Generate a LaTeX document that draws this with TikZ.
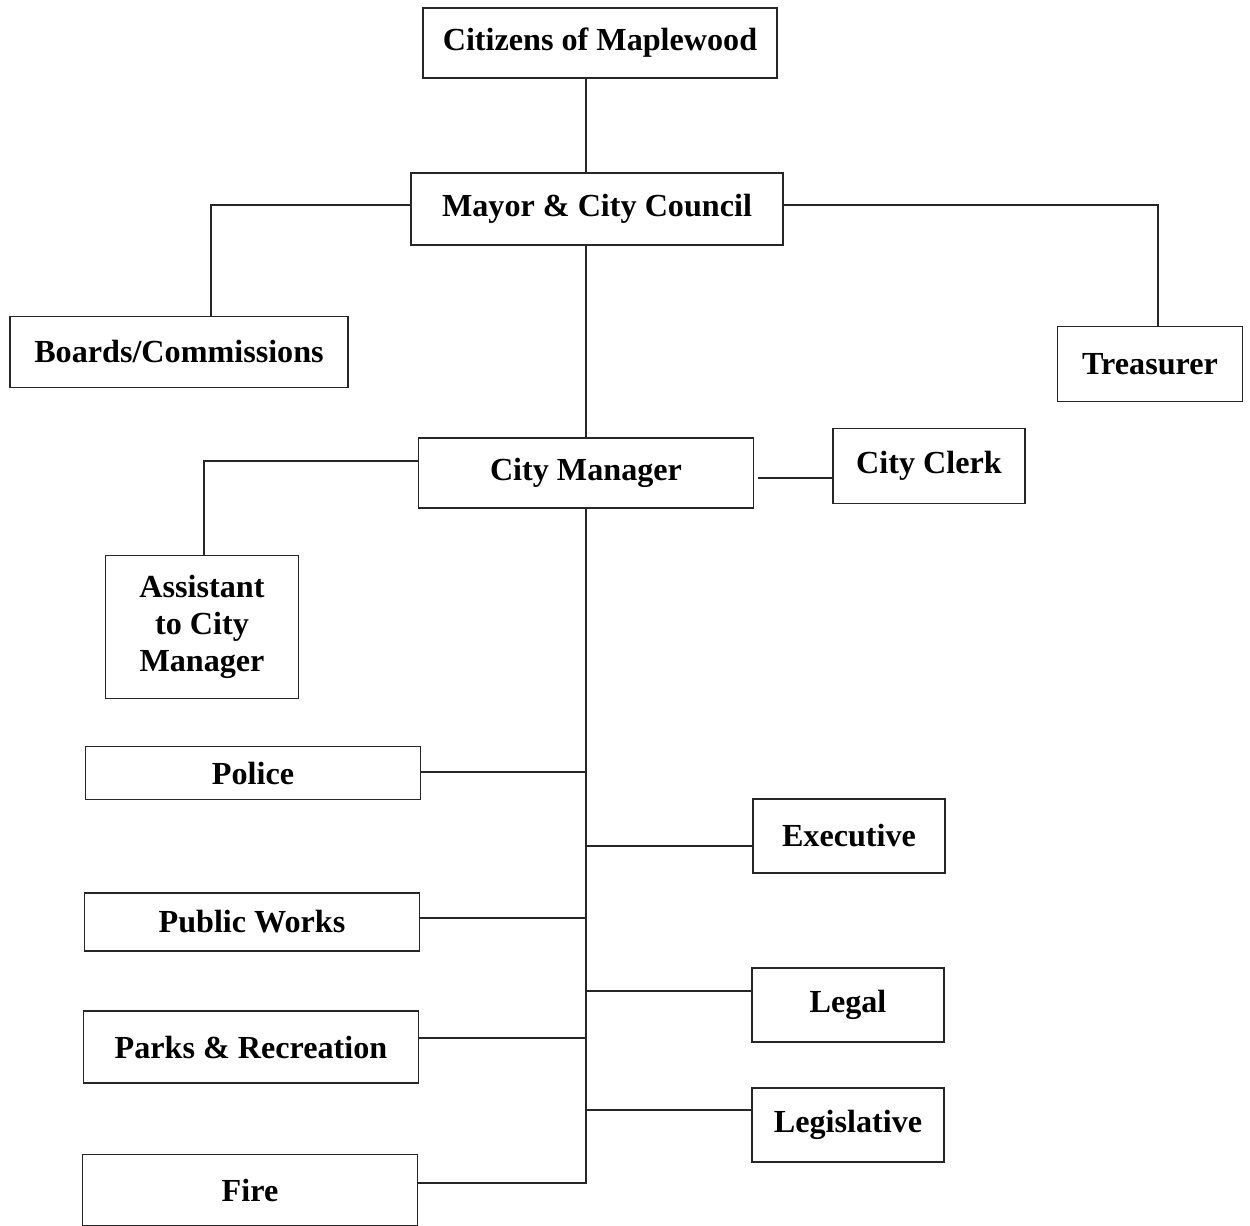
\documentclass[tikz,border=0pt]{standalone}
\usepackage{fontspec}
\setmainfont{Liberation Serif}
\usepackage{tikz}
\usetikzlibrary{calc}

\begin{document}
\begin{tikzpicture}[
  x=0.02cm, y=-0.02cm,
  font=\bfseries\fontsize{18.3}{21}\selectfont,
  unit/.style ={draw=black!85, line width=0.9pt, fill=white, inner sep=0pt, align=center},
  wide/.style ={unit, minimum width=6.7cm},
  short/.style={unit, minimum width=3.84cm, minimum height=1.48cm},
  link/.style ={draw=black!85, line width=0.9pt},
]
\useasboundingbox (0,0) rectangle (1250,1226);

% ── Top: citizens, council ───────────────────────────────────────────
\node[unit, minimum width=7.08cm, minimum height=1.4cm] (citizens) at (600,43) {Citizens of Maplewood};
\node[unit, minimum width=7.44cm, minimum height=1.44cm] (council) at (597,209) {Mayor \& City Council};
\node[unit, minimum width=6.76cm, minimum height=1.42cm] (boards) at (179,352) {Boards/Commissions};
\node[unit, minimum width=3.7cm, minimum height=1.5cm] (treasurer) at (1150,364) {Treasurer};

% ── City manager and staff ───────────────────────────────────────────
\node[unit, minimum width=6.7cm, minimum height=1.4cm] (manager) at (586,473) {City Manager};
\node[unit, minimum width=3.84cm, minimum height=1.5cm] (clerk) at (929,466) {City Clerk};
\node[unit, minimum width=3.86cm, minimum height=2.86cm] (assistant) at (202,627) {Assistant\\to City\\Manager};

% ── Departments, left column ─────────────────────────────────────────
\node[wide, minimum height=1.06cm] (police) at (253,773) {Police};
\node[wide, minimum height=1.16cm] (works) at (252,922) {Public Works};
\node[wide, minimum height=1.44cm] (parks) at (251,1047) {Parks \& Recreation};
\node[wide, minimum height=1.42cm] (fire) at (250,1190) {Fire};

% ── Departments, right column ────────────────────────────────────────
\node[short] (executive) at (849,836) {Executive};
\node[short] (legal) at (848,1005) {Legal};
\node[short] (legislative) at (848,1125) {Legislative};

% ── Connectors ───────────────────────────────────────────────────────
\coordinate (trunk) at (586,0);
\coordinate (bbend) at (211,205);
\coordinate (tbend) at (1158,205);
\coordinate (abend) at (204,461);

\draw[link] (citizens.south -| trunk) -- (council.north -| trunk);
\draw[link] (council.west |- bbend) -- (bbend) -- (bbend |- boards.north);
\draw[link] (council.east |- tbend) -- (tbend) -- (tbend |- treasurer.north);
\draw[link] (council.south -| trunk) -- (manager.north -| trunk);

\draw[link] (manager.west |- abend) -- (abend) -- (abend |- assistant.north);
\draw[link] ($(manager.east |- 0,478)+(4,0)$) -- (clerk.west |- 0,478);

% trunk down to the departments
\draw[link] (manager.south -| trunk) -- (trunk |- 0,1183) -- (fire.east |- 0,1183);
\draw[link] (police.east |- 0,772) -- (trunk |- 0,772);
\draw[link] (works.east |- 0,918) -- (trunk |- 0,918);
\draw[link] (parks.east |- 0,1038) -- (trunk |- 0,1038);
\draw[link] (trunk |- 0,846) -- (executive.west |- 0,846);
\draw[link] (trunk |- 0,991) -- (legal.west |- 0,991);
\draw[link] (trunk |- 0,1110) -- (legislative.west |- 0,1110);

\end{tikzpicture}
\end{document}
